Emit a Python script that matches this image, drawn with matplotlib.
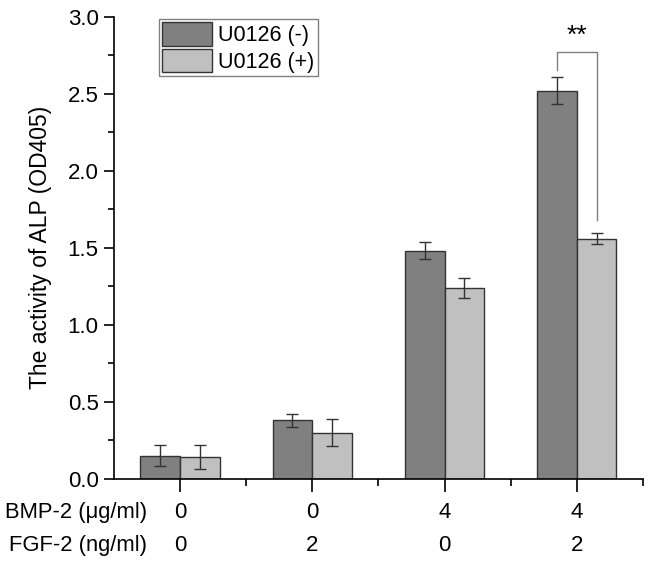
import matplotlib
matplotlib.use("Agg")
import matplotlib.pyplot as plt
import numpy as np
from matplotlib.ticker import MultipleLocator, FixedLocator
from matplotlib.transforms import blended_transform_factory

plt.rcParams['font.family'] = ['Liberation Sans', 'DejaVu Sans']

# data
bmp2 = ["0", "0", "4", "4"]
fgf2 = ["0", "2", "0", "2"]
u_minus = [0.15, 0.38, 1.48, 2.52]
u_minus_err = [0.07, 0.043, 0.055, 0.087]
u_plus = [0.14, 0.30, 1.24, 1.56]
u_plus_err = [0.08, 0.086, 0.065, 0.038]

fig = plt.figure(figsize=(6.52, 5.64), dpi=100)
ax = fig.add_axes([0.1748, 0.1512, 0.8113, 0.8187])

x = np.arange(len(bmp2))
w = 0.3
err_kw = dict(ecolor="#333333", elinewidth=1.0, capsize=4, capthick=1.0)
ax.bar(x - w / 2, u_minus, w, yerr=u_minus_err, color="#808080",
       edgecolor="#333333", linewidth=1.0, label="U0126 (-)", error_kw=err_kw)
ax.bar(x + w / 2, u_plus, w, yerr=u_plus_err, color="#c0c0c0",
       edgecolor="#333333", linewidth=1.0, label="U0126 (+)", error_kw=err_kw)

ax.set_xlim(-0.5, 3.5)
ax.set_ylim(0, 3.0)
ax.spines['top'].set_visible(False)
ax.spines['right'].set_visible(False)
for s in ('left', 'bottom'):
    ax.spines[s].set_linewidth(1.2)

ax.yaxis.set_major_locator(MultipleLocator(0.5))
ax.yaxis.set_minor_locator(MultipleLocator(0.25))
ax.yaxis.set_major_formatter(matplotlib.ticker.FormatStrFormatter('%.1f'))
ax.xaxis.set_major_locator(FixedLocator(x))
ax.xaxis.set_minor_locator(FixedLocator([0.5, 1.5, 2.5, 3.5]))
ax.set_xticklabels([])
ax.tick_params(axis='y', which='major', length=7, width=1.2, labelsize=16, pad=4)
ax.tick_params(axis='y', which='minor', length=4, width=1.2)
ax.tick_params(axis='x', which='major', length=9, width=1.2)
ax.tick_params(axis='x', which='minor', length=5, width=1.2)

ax.set_ylabel("The activity of ALP (OD405)", fontsize=16.5)
ax.yaxis.set_label_coords(-0.118, 0.5)

# condition rows under the axis
tr = blended_transform_factory(ax.transData, ax.transAxes)
for i in range(len(bmp2)):
    ax.text(x[i], -0.074, bmp2[i], transform=tr, ha='center', va='center', fontsize=16)
    ax.text(x[i], -0.1436, fgf2[i], transform=tr, ha='center', va='center', fontsize=16)
ax.text(-0.248, -0.074, "BMP-2 (\u03bcg/ml)", transform=tr, ha='right', va='center', fontsize=15.8)
ax.text(-0.248, -0.1436, "FGF-2 (ng/ml)", transform=tr, ha='right', va='center', fontsize=15.8)

# significance bracket
ax.plot([3 - w / 2, 3 - w / 2, 3 + w / 2, 3 + w / 2], [2.654, 2.771, 2.771, 1.681],
        color="#808080", linewidth=1.0, clip_on=False)
ax.text(3, 2.80, "**", ha='center', va='bottom', fontsize=19)

leg = ax.legend(loc='upper left', bbox_to_anchor=(0.085, 0.996), borderaxespad=0,
                fontsize=15.5, handlelength=2.3, handleheight=1.3, labelspacing=0.12,
                borderpad=0.15, handletextpad=0.3, fancybox=False, framealpha=1)
leg.get_frame().set_edgecolor("#808080")
leg.get_frame().set_linewidth(1.0)

fig.savefig("out.png", dpi=100)
